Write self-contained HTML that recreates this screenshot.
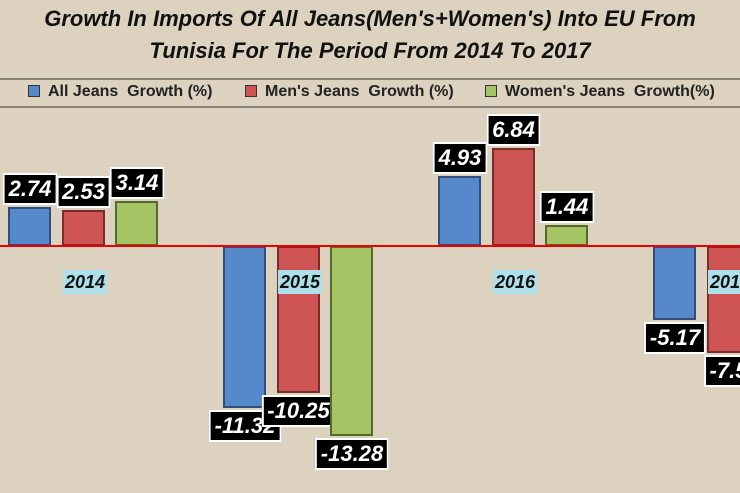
<!DOCTYPE html><html><head><style>
body{margin:0;width:740px;height:493px;overflow:hidden;background:#dcd2bf;font-family:"Liberation Sans",sans-serif;position:relative}
.t{position:absolute;left:0;width:740px;text-align:center;font-weight:bold;font-style:italic;font-size:22px;color:#111}
.ln{position:absolute;left:0;width:740px;height:2px;background:#8a8478}
.b{position:absolute;width:43px;box-sizing:border-box;border:2px solid #333}
.bl{background:#5589cc;border-color:#2f4f7a}.rd{background:#cf5555;border-color:#7a2c2c}.gr{background:#a5c565;border-color:#556a2c}
.lb{position:absolute;background:#000;color:#fff;border:2px solid #fff;font-weight:bold;font-style:italic;font-size:22px;padding:2px 4px;line-height:24px;transform:translateX(-50%)}
.yr{position:absolute;background:#aee0ea;font-weight:bold;font-style:italic;font-size:18px;color:#111;padding:1px 2px;line-height:22px;transform:translateX(-50%)}
.lg{position:absolute;top:83px;font-size:16px;font-weight:bold;color:#222}
.lg i{display:inline-block;width:10px;height:10px;border:1px solid #333;margin-right:8px;vertical-align:-1px}
</style></head><body>
<div class="t" style="top:6px">Growth In Imports Of All Jeans(Men's+Women's) Into EU From</div>
<div class="t" style="top:38px">Tunisia For The Period From 2014 To 2017</div>
<div class="ln" style="top:78px"></div><div class="ln" style="top:106px"></div>
<div class="lg" style="left:28px"><i style="background:#5589cc"></i>All Jeans &nbsp;Growth (%)</div>
<div class="lg" style="left:245px"><i style="background:#cf5555"></i>Men's Jeans &nbsp;Growth (%)</div>
<div class="lg" style="left:485px"><i style="background:#a5c565"></i>Women's Jeans &nbsp;Growth(%)</div>
<div id="c"></div>
<div style="position:absolute;left:0;top:245px;width:740px;height:2px;background:#e00"></div>
<script>
(function(){
var z=246,s=14.3,d=[[2.74,2.53,3.14],[-11.32,-10.25,-13.28],[4.93,6.84,1.44],[-5.17,-7.5,null]],cl=['bl','rd','gr'],h='';
var lbl=[['2.74','2.53','3.14'],['-11.32','-10.25','-13.28'],['4.93','6.84','1.44'],['-5.17','-7.5','']];
for(var g=0;g<4;g++){for(var i=0;i<3;i++){var v=d[g][i];if(v==null)continue;var x=8+g*215+i*53.5,hh=Math.abs(v)*s;
var ty=v>0?z-hh:z;h+='<div class="b '+cl[i]+'" style="left:'+x+'px;top:'+ty+'px;height:'+hh+'px"></div>';
var ly=v>0?z-hh-34:z+hh+2;h+='<div class="lb" style="left:'+(x+22)+'px;top:'+ly+'px">'+lbl[g][i]+'</div>';}
h+='<div class="yr" style="left:'+(85+g*215)+'px;top:270px">'+(2014+g)+'</div>';}
document.getElementById('c').innerHTML=h;
})();
</script>
</body></html>
